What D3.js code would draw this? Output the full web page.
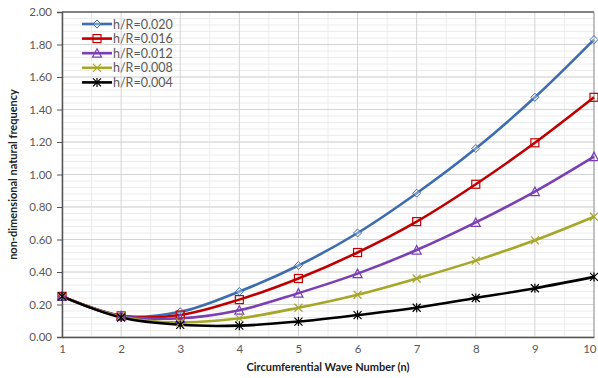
<!DOCTYPE html>
<html>
<head>
<meta charset="utf-8">
<script src="https://cdn.jsdelivr.net/npm/d3@7"></script>
<style>
  body { margin: 0; background: #fff; }
  svg { display: block; font-family: Lato, "Open Sans", sans-serif; }
</style>
</head>
<body>
<svg id="chart" width="598" height="378"></svg>
<script>
const waveNumbers = [1, 2, 3, 4, 5, 6, 7, 8, 9, 10];
const seriesNames = ['h/R=0.020', 'h/R=0.016', 'h/R=0.012', 'h/R=0.008', 'h/R=0.004'];
const hr020 = [0.25, 0.13, 0.155, 0.28, 0.44, 0.64, 0.885, 1.16, 1.475, 1.83];
const hr016 = [0.25, 0.13, 0.135, 0.23, 0.36, 0.52, 0.71, 0.94, 1.195, 1.475];
const hr012 = [0.25, 0.13, 0.115, 0.165, 0.27, 0.39, 0.535, 0.705, 0.895, 1.11];
const hr008 = [0.25, 0.125, 0.09, 0.115, 0.18, 0.26, 0.36, 0.47, 0.595, 0.74];
const hr004 = [0.25, 0.12, 0.075, 0.07, 0.095, 0.135, 0.18, 0.24, 0.3, 0.37];
const yTicks = [0, 0.2, 0.4, 0.6, 0.8, 1.0, 1.2, 1.4, 1.6, 1.8, 2.0];

const colors = ['#3d6db0', '#c00000', '#7b3fb5', '#a6a628', '#000000'];
const markers = ['diamond', 'square', 'triangle', 'cross', 'star'];
const allSeries = [hr020, hr016, hr012, hr008, hr004];

const margin = { top: 12, right: 4, bottom: 41, left: 62 };
const width = 598 - margin.left - margin.right;
const height = 378 - margin.top - margin.bottom;

const svg = d3.select('#chart');
const g = svg.append('g').attr('transform', `translate(${margin.left},${margin.top})`);

const x = d3.scaleLinear().domain([1, 10]).range([0, width]);
const y = d3.scaleLinear().domain([0, 2]).range([height, 0]);

// minor grid
const minorY = d3.range(0, 2.0001, 0.04);
g.selectAll('.gy-minor').data(minorY).enter().append('line')
  .attr('x1', 0).attr('x2', width)
  .attr('y1', d => y(d)).attr('y2', d => y(d))
  .attr('stroke', '#ececec').attr('stroke-width', 1);
const minorX = d3.range(1.5, 10, 1);
g.selectAll('.gx-minor').data(minorX).enter().append('line')
  .attr('x1', d => x(d)).attr('x2', d => x(d))
  .attr('y1', 0).attr('y2', height)
  .attr('stroke', '#ececec').attr('stroke-width', 1);

// major grid
g.selectAll('.gy').data(yTicks).enter().append('line')
  .attr('x1', 0).attr('x2', width)
  .attr('y1', d => y(d)).attr('y2', d => y(d))
  .attr('stroke', '#d4d4d4').attr('stroke-width', 1);
g.selectAll('.gx').data(waveNumbers).enter().append('line')
  .attr('x1', d => x(d)).attr('x2', d => x(d))
  .attr('y1', 0).attr('y2', height)
  .attr('stroke', '#d4d4d4').attr('stroke-width', 1);

// top border + right
g.append('line').attr('x1', 0).attr('x2', width).attr('y1', 0).attr('y2', 0)
  .attr('stroke', '#222').attr('stroke-width', 1.2);
g.append('line').attr('x1', width).attr('x2', width).attr('y1', 0).attr('y2', height)
  .attr('stroke', '#999').attr('stroke-width', 1);

// axes
const xAxis = g.append('g').attr('transform', `translate(0,${height})`)
  .call(d3.axisBottom(x).tickValues(waveNumbers).tickFormat(d3.format('d')).tickSize(0).tickPadding(8));
const yAxis = g.append('g')
  .call(d3.axisLeft(y).tickValues(yTicks).tickFormat(d3.format('.2f')).tickSize(5).tickPadding(5));
[xAxis, yAxis].forEach(a => {
  a.select('.domain').attr('stroke', '#555').attr('stroke-width', 1.5);
  a.selectAll('.tick line').attr('stroke', '#555');
  a.selectAll('text').attr('fill', '#595959').style('font-size', '11.5px')
    .style('font-family', 'Lato, "Open Sans", sans-serif');
});
yAxis.selectAll('.tick line').attr('x2', 0).attr('x1', -5);
// last label sits at the very edge, keep it inside the window
xAxis.selectAll('.tick text').filter(d => d === 10).attr('text-anchor', 'end').attr('dx', '2px');

// axis titles
svg.append('text')
  .attr('x', margin.left + width / 2).attr('y', 371)
  .attr('text-anchor', 'middle')
  .style('font-size', '11px').style('font-weight', 'bold').attr('fill', '#222')
  .text('Circumferential Wave Number (n)');
svg.append('text')
  .attr('transform', `translate(17,${margin.top + height / 2}) rotate(-90)`)
  .attr('text-anchor', 'middle')
  .style('font-size', '11px').style('font-weight', 'bold').attr('fill', '#222')
  .text('non-dimensional natural frequency');

// markers
function drawMarker(sel, type, color) {
  const s = 4;
  if (type === 'diamond') {
    sel.append('path').attr('d', `M0,${-s}L${s},0L0,${s}L${-s},0Z`)
      .attr('fill', '#fff').attr('fill-opacity', 0.3).attr('stroke', color).attr('stroke-width', 1);
  } else if (type === 'square') {
    sel.append('rect').attr('x', -s).attr('y', -s).attr('width', 2 * s).attr('height', 2 * s)
      .attr('fill', 'none').attr('stroke', color).attr('stroke-width', 1.2);
  } else if (type === 'triangle') {
    sel.append('path').attr('d', `M0,${-s - 0.5}L${s + 0.5},${s}L${-s - 0.5},${s}Z`)
      .attr('fill', 'none').attr('stroke', color).attr('stroke-width', 1.2);
  } else if (type === 'cross') {
    sel.append('path').attr('d', `M${-s},${-s}L${s},${s}M${-s},${s}L${s},${-s}`)
      .attr('stroke', color).attr('stroke-width', 1.2);
  } else {
    sel.append('path').attr('d', `M${-s},${-s}L${s},${s}M${-s},${s}L${s},${-s}M0,${-s - 0.5}L0,${s + 0.5}`)
      .attr('stroke', color).attr('stroke-width', 1.2);
  }
}

const line = d3.line()
  .x((d, i) => x(waveNumbers[i]))
  .y(d => y(d))
  .curve(d3.curveCatmullRom.alpha(0.5));

allSeries.forEach((vals, k) => {
  g.append('path').datum(vals)
    .attr('d', line)
    .attr('fill', 'none')
    .attr('stroke', colors[k])
    .attr('stroke-width', 2.6);
});
allSeries.forEach((vals, k) => {
  vals.forEach((v, i) => {
    const m = g.append('g').attr('transform', `translate(${x(waveNumbers[i])},${y(v)})`);
    drawMarker(m, markers[k], colors[k]);
  });
});

// legend
const legend = svg.append('g').attr('transform', 'translate(82,24)');
seriesNames.forEach((name, k) => {
  const row = legend.append('g').attr('transform', `translate(0,${k * 14.6})`);
  row.append('line').attr('x1', 0).attr('x2', 30).attr('y1', 0).attr('y2', 0)
    .attr('stroke', colors[k]).attr('stroke-width', 2.6);
  const m = row.append('g').attr('transform', 'translate(15,0)');
  drawMarker(m, markers[k], colors[k]);
  row.append('text').attr('x', 31).attr('y', 4.5)
    .style('font-size', '12.5px').attr('fill', '#595959')
    .text(name);
});
</script>
</body>
</html>
